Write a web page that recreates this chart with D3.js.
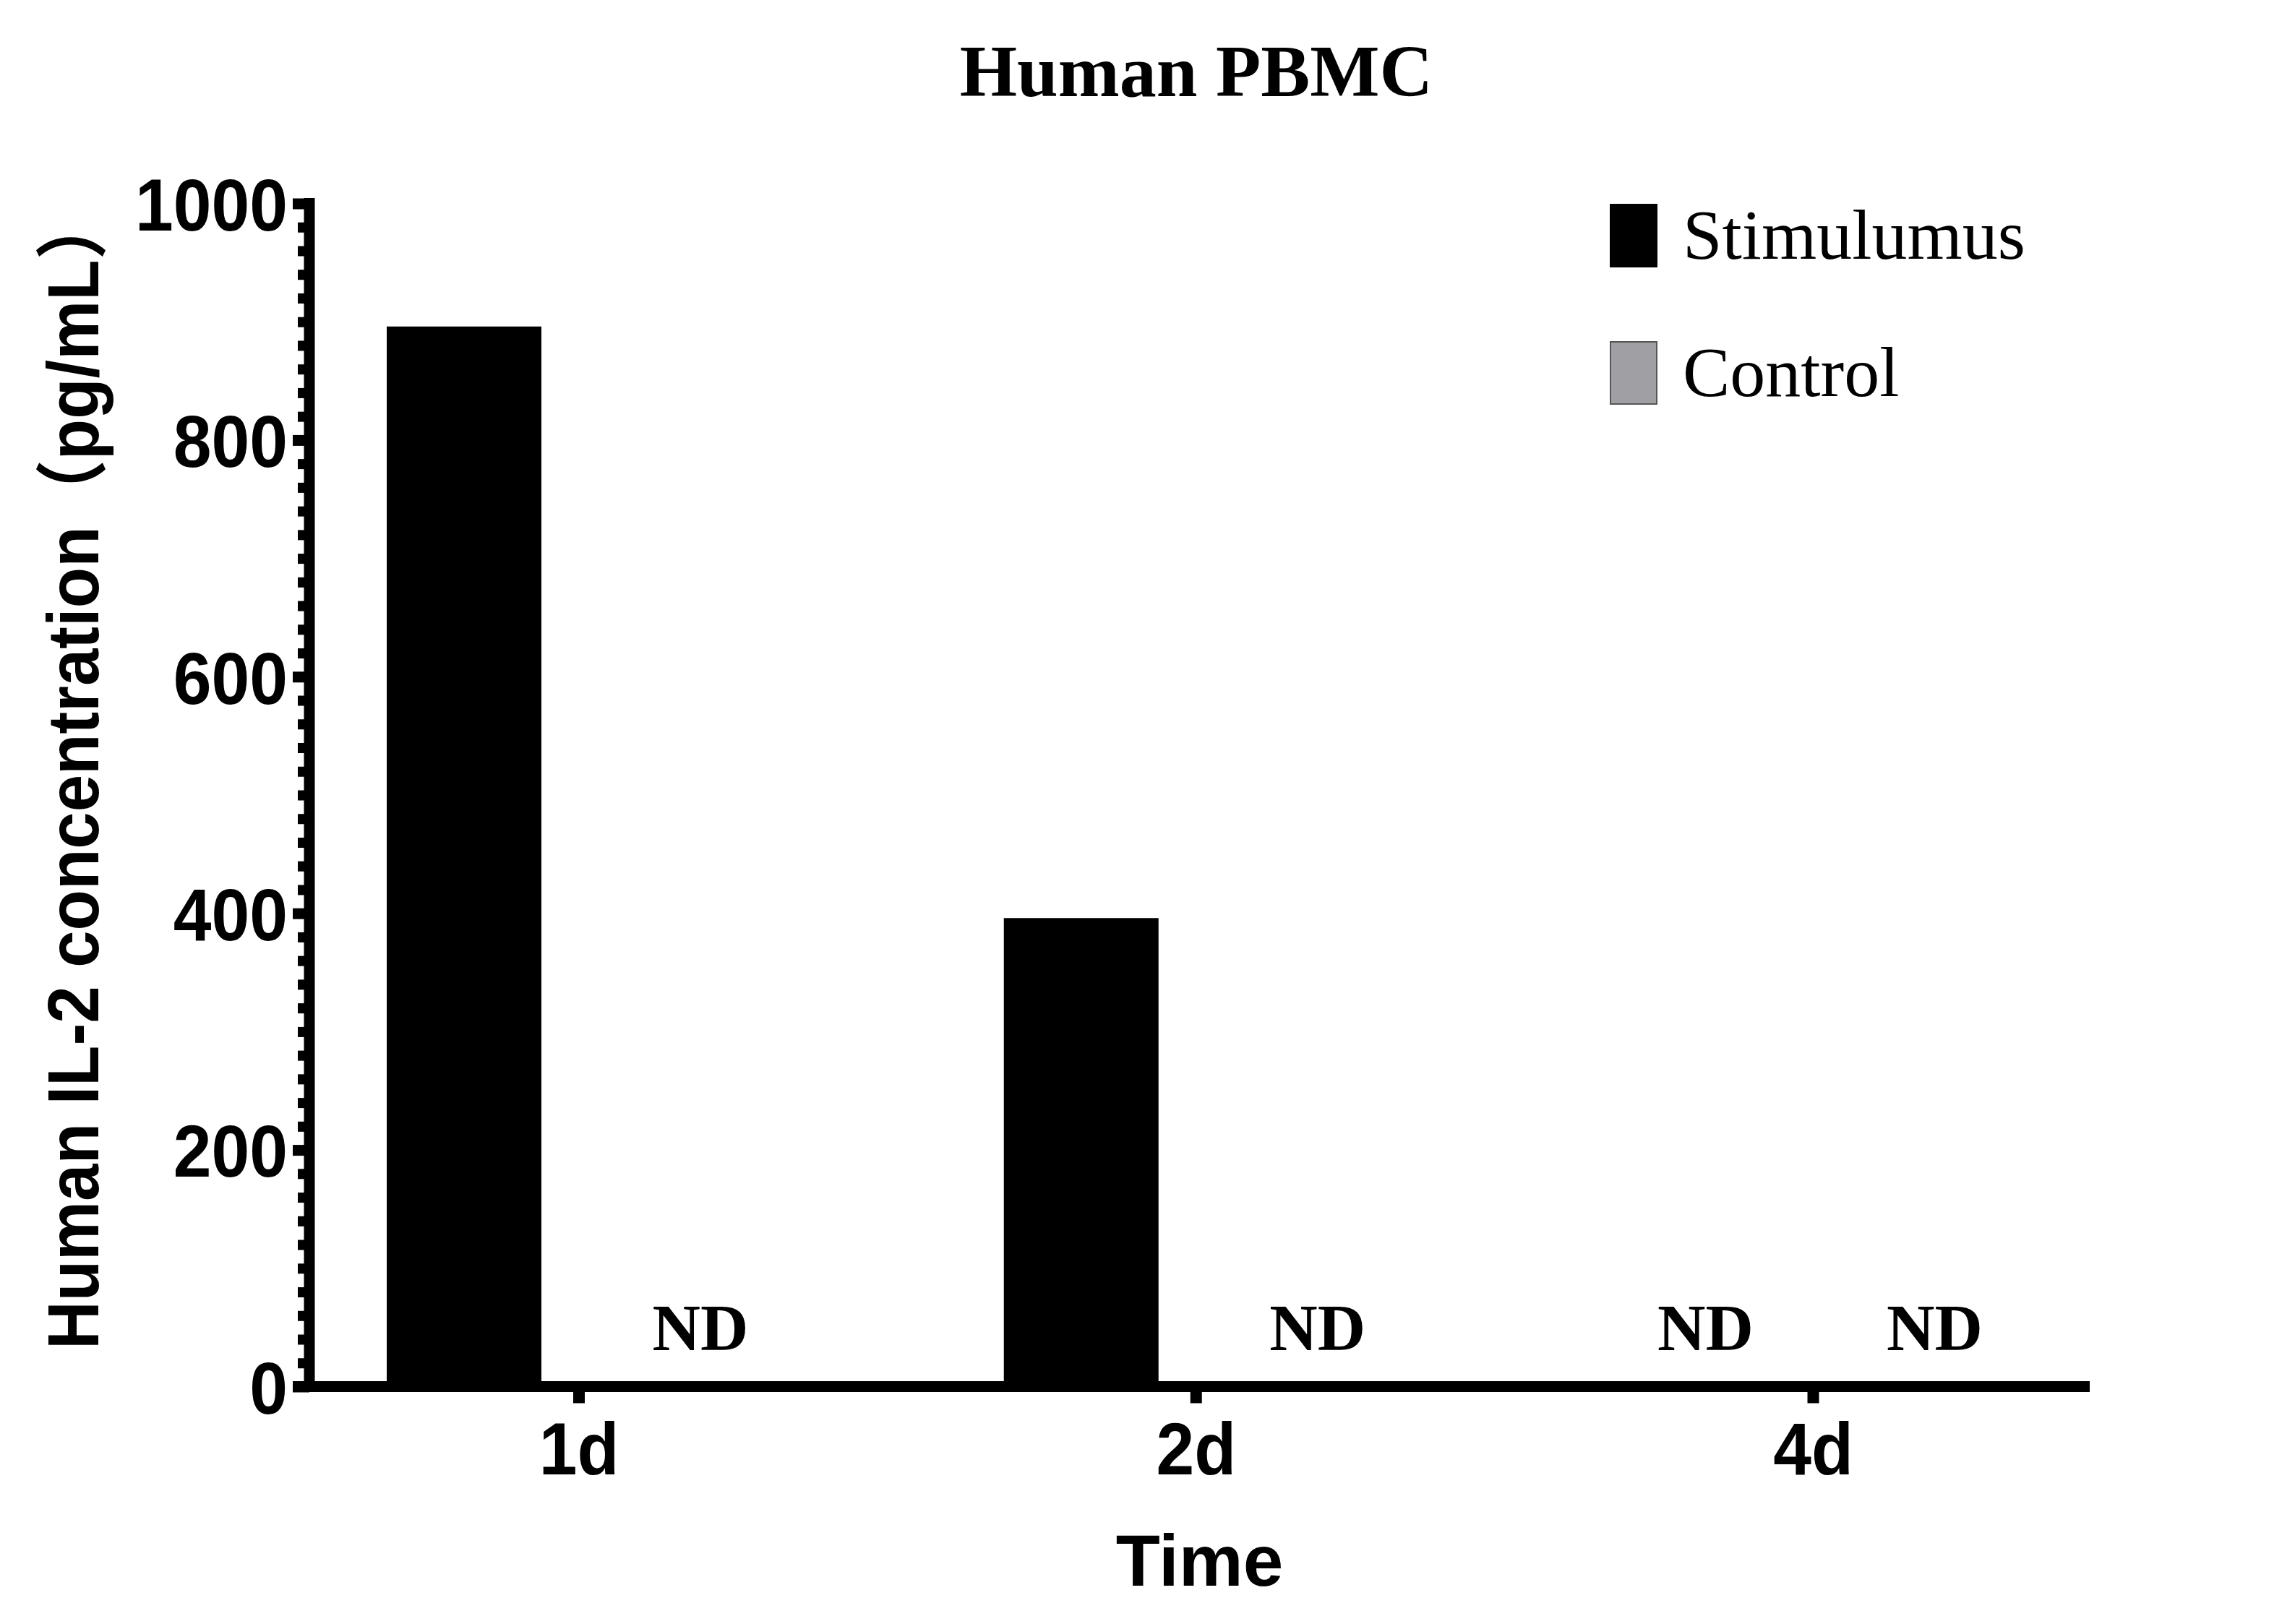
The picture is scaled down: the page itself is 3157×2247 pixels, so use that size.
<!DOCTYPE html>
<html>
<head>
<meta charset="utf-8">
<script src="https://cdn.jsdelivr.net/npm/d3@7"></script>
<style>
  html, body { margin: 0; padding: 0; background: #ffffff; }
  svg { display: block; }
</style>
</head>
<body>
<div id="chart"></div>
<script>
// ---- data ----
const categories = ["1d", "2d", "4d"];
const seriesNames = ["Stimulumus", "Control"];
const stimulusValues = [896, 396, 0];
const controlValues = [0, 0, 0];
const stimulusLabels = ["", "", "ND"];
const controlLabels = ["ND", "ND", "ND"];
const yMajorTicks = [0, 200, 400, 600, 800, 1000];
const yMinorTicks = d3.range(0, 1001, 20).filter(v => v % 200 !== 0);
const titleText = "Human PBMC";
const xTitle = "Time";
const yTitle = "Human IL-2 concentration（pg/mL）";

// ---- layout ----
const W = 3157, H = 2247;
const axisX = 428, baseY = 1918.5, topY = 281.5;
const axisRight = 2891;
const lw = 15;
const seriesColors = ["#000000", "#a0a0a4"];

const svg = d3.select("#chart").append("svg")
  .attr("width", W).attr("height", H)
  .attr("viewBox", `0 0 ${W} ${H}`);
svg.append("rect").attr("width", W).attr("height", H).attr("fill", "#fff");

const y = d3.scaleLinear().domain([0, 1000]).range([baseY, topY]);
const x = d3.scalePoint().domain(categories).range([axisX, 2880.5]).padding(0.4363);
const xs = d3.scaleBand().domain(seriesNames).range([-265.5, 265.5]).paddingInner(0.325);

const rows = categories.map((c, i) => ({
  cat: c,
  items: [
    { s: seriesNames[0], v: stimulusValues[i], label: stimulusLabels[i] },
    { s: seriesNames[1], v: controlValues[i], label: controlLabels[i] }
  ]
}));

// bars
const g = svg.append("g");
rows.forEach(r => {
  r.items.forEach((it, j) => {
    if (it.v > 0) {
      g.append("rect")
        .attr("x", x(r.cat) + xs(it.s))
        .attr("y", y(it.v))
        .attr("width", xs.bandwidth())
        .attr("height", y(0) - y(it.v))
        .attr("fill", seriesColors[j]);
    }
    if (it.label) {
      g.append("text")
        .attr("x", x(r.cat) + xs(it.s) + xs.bandwidth() / 2 + 10)
        .attr("y", y(0) - 51)
        .attr("text-anchor", "middle")
        .attr("font-family", "'Liberation Serif', 'Times New Roman', serif")
        .attr("font-weight", "bold")
        .attr("font-size", 92)
        .attr("fill", "#000")
        .text(it.label);
    }
  });
});

// y axis minor ticks
const yMinor = svg.append("g").attr("transform", `translate(${axisX},0)`)
  .call(d3.axisLeft(y).tickValues(yMinorTicks).tickSize(16).tickFormat(""));
yMinor.select(".domain").remove();
yMinor.selectAll(".tick line").attr("stroke", "#000").attr("stroke-width", 14);

// y axis major ticks
const yMajor = svg.append("g").attr("transform", `translate(${axisX},0)`)
  .call(d3.axisLeft(y).tickValues(yMajorTicks).tickFormat(d3.format("d")).tickSize(23).tickPadding(7));
yMajor.select(".domain").remove();
yMajor.selectAll(".tick line").attr("stroke", "#000").attr("stroke-width", lw);
yMajor.selectAll(".tick text")
  .attr("x", 0).attr("dy", "0.36em")
  .attr("transform", "translate(-30,0) scale(0.93,1)")
  .attr("font-family", "'Liberation Sans', Arial, sans-serif")
  .attr("font-weight", "bold")
  .attr("font-size", 102)
  .attr("fill", "#000");

// x axis
const xAxis = svg.append("g").attr("transform", `translate(0,${baseY})`)
  .call(d3.axisBottom(x).tickSize(23).tickPadding(26));
xAxis.select(".domain").remove();
xAxis.selectAll(".tick line").attr("stroke", "#000").attr("stroke-width", 16);
xAxis.selectAll(".tick text")
  .attr("transform", "scale(0.93,1)")
  .attr("font-family", "'Liberation Sans', Arial, sans-serif")
  .attr("font-weight", "bold")
  .attr("font-size", 102)
  .attr("fill", "#000");

// axis lines
svg.append("line")
  .attr("x1", axisX).attr("x2", axisX)
  .attr("y1", y(1000) - lw / 2).attr("y2", baseY)
  .attr("stroke", "#000").attr("stroke-width", lw);
svg.append("line")
  .attr("x1", axisX - 23).attr("x2", axisRight)
  .attr("y1", baseY).attr("y2", baseY)
  .attr("stroke", "#000").attr("stroke-width", lw);

// title
svg.append("text")
  .attr("x", 1655).attr("y", 133)
  .attr("text-anchor", "middle")
  .attr("font-family", "'Liberation Serif', 'Times New Roman', serif")
  .attr("font-weight", "bold")
  .attr("font-size", 102)
  .attr("fill", "#000")
  .text(titleText);

// x title
svg.append("text")
  .attr("x", (axisX + axisRight) / 2).attr("y", 2194)
  .attr("text-anchor", "middle")
  .attr("font-family", "'Liberation Sans', Arial, sans-serif")
  .attr("font-weight", "bold")
  .attr("font-size", 100)
  .attr("fill", "#000")
  .text(xTitle);

// y title
svg.append("text")
  .attr("transform", `translate(136,1867) rotate(-90)`)
  .attr("x", 0).attr("y", 0)
  .attr("text-anchor", "start")
  .attr("font-family", "'Liberation Sans', Arial, 'Noto Sans CJK SC', sans-serif")
  .attr("font-weight", "bold")
  .attr("font-size", 100)
  .attr("textLength", 1600)
  .attr("lengthAdjust", "spacingAndGlyphs")
  .attr("fill", "#000")
  .text(yTitle);

// legend
const legend = svg.append("g").attr("transform", "translate(2228,283)");
seriesNames.forEach((name, i) => {
  const row = legend.append("g").attr("transform", `translate(0,${i * 190})`);
  row.append("rect")
    .attr("x", 0).attr("y", 0)
    .attr("width", 64).attr("height", 86)
    .attr("fill", seriesColors[i])
    .attr("stroke", i === 0 ? "#000" : "#555")
    .attr("stroke-width", 2);
  row.append("text")
    .attr("x", 100).attr("y", 75)
    .attr("font-family", "'Liberation Serif', 'Times New Roman', serif")
    .attr("font-size", 98)
    .attr("fill", "#000")
    .text(name);
});
</script>
</body>
</html>
